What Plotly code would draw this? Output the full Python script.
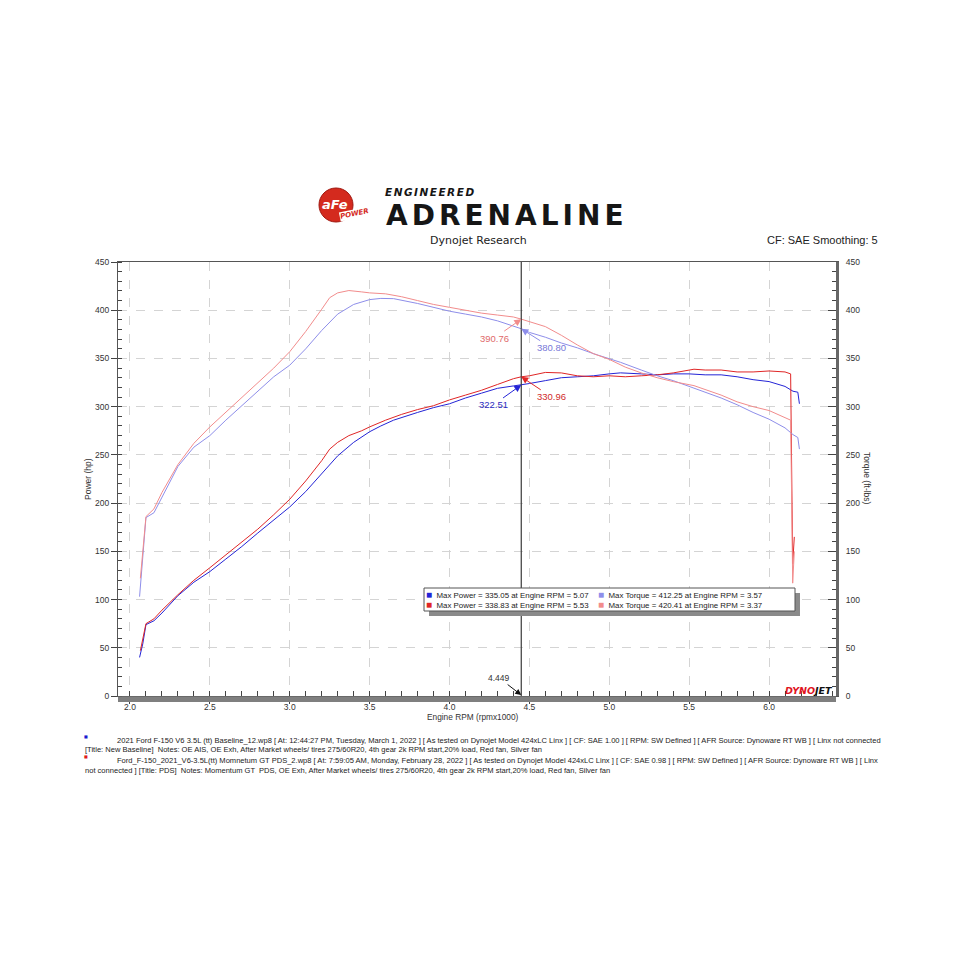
import plotly.graph_objects as go

# ---------------- data ----------------
# Baseline run (blue)
rpm_base = [2.06, 2.08, 2.10, 2.15, 2.2, 2.3, 2.4, 2.5, 2.6, 2.7, 2.8, 2.9, 3.0, 3.1, 3.2, 3.3, 3.4, 3.5,
            3.57, 3.65, 3.8, 3.9, 4.0, 4.1, 4.2, 4.3, 4.4, 4.449, 4.5, 4.6, 4.7, 4.8, 4.9, 5.0, 5.07,
            5.2, 5.3, 5.4, 5.5, 5.6, 5.7, 5.8, 5.9, 6.0, 6.1, 6.15, 6.18, 6.19]
power_base = [40, 54, 74, 78, 86, 104, 118, 129, 142, 155, 169, 183, 196, 212, 231, 249, 263, 274,
              280, 286, 294, 299, 303, 309, 314, 319, 321.5, 322.51, 324, 327, 330, 331, 332, 334, 335.05,
              334, 333, 334, 334, 333, 333, 331, 328, 326, 321, 316, 315, 303]
torque_base = [103, 140, 185, 190, 206, 238, 258, 270, 286, 301, 317, 331, 343, 360, 379, 396, 406, 411,
               412.25, 412, 407, 403, 399, 396, 393, 389, 384, 380.80, 377, 372, 366, 361, 355, 350, 346,
               338, 332, 327, 321, 315, 309, 302, 294, 287, 278, 271, 268, 256]

# Momentum GT PDS run (red)
rpm_mgt = [2.065, 2.08, 2.10, 2.15, 2.2, 2.3, 2.4, 2.5, 2.6, 2.7, 2.8, 2.9, 3.0, 3.1, 3.2, 3.25, 3.3,
           3.37, 3.45, 3.5, 3.6, 3.7, 3.8, 3.9, 4.0, 4.1, 4.2, 4.3, 4.4, 4.449, 4.5, 4.6, 4.7, 4.8, 4.9,
           5.0, 5.1, 5.2, 5.3, 5.4, 5.53, 5.6, 5.7, 5.8, 5.9, 6.0, 6.1, 6.135, 6.148, 6.158]
power_mgt = [47, 60, 75, 80, 89, 105, 120, 133, 146, 159, 173, 188, 204, 223, 244, 256, 263,
             270, 275, 279, 286, 292, 297, 301, 307, 312, 317, 323, 329, 330.96, 332, 335.5, 335, 332, 331,
             332, 331, 332, 333, 335, 338.83, 338, 338, 336, 336, 337, 336, 334, 137, 165]
torque_mgt = [122, 150, 186, 194, 211, 240, 262, 279, 294, 310, 325, 340, 357, 378, 401, 413, 418,
              420.41, 419, 418, 417, 414, 410, 406, 403, 400, 397, 395, 393, 390.76, 388, 383, 374, 364, 355,
              349, 341, 335, 330, 326, 321.8, 318, 312, 305, 300, 296, 289, 286, 117, 150]

cursor_rpm = 4.449
cursor_vals = {"tq_mgt": 390.76, "tq_base": 380.80, "pw_base": 322.51, "pw_mgt": 330.96}

legend_rows = [
    ("Max Power", 335.05, 5.07, "Max Torque", 412.25, 3.57),
    ("Max Power", 338.83, 5.53, "Max Torque", 420.41, 3.37),
]

x_ticks = [2.0, 2.5, 3.0, 3.5, 4.0, 4.5, 5.0, 5.5, 6.0]
y_ticks = [0, 50, 100, 150, 200, 250, 300, 350, 400, 450]

notes = [
    "2021 Ford F-150 V6 3.5L (tt) Baseline_12.wp8 [ At: 12:44:27 PM, Tuesday, March 1, 2022 ] [ As tested on Dynojet Model 424xLC Linx ] [ CF: SAE 1.00 ] [ RPM: SW Defined ] [ AFR Source: Dynoware RT WB ] [ Linx not connected",
    "[Title: New Baseline]  Notes: OE AIS, OE Exh, After Market wheels/ tires 275/60R20, 4th gear 2k RPM start,20% load, Red fan, Silver fan",
    "Ford_F-150_2021_V6-3.5L(tt) Momnetum GT PDS_2.wp8 [ At: 7:59:05 AM, Monday, February 28, 2022 ] [ As tested on Dynojet Model 424xLC Linx ] [ CF: SAE 0.98 ] [ RPM: SW Defined ] [ AFR Source: Dynoware RT WB ] [ Linx",
    "not connected ] [Title: PDS]  Notes: Momentum GT  PDS, OE Exh, After Market wheels/ tires 275/60R20, 4th gear 2k RPM start,20% load, Red fan, Silver fan",
]

# ---------------- styling ----------------
C_PB = "#2424d6"   # baseline power
C_PM = "#e02626"   # mgt power
C_TB = "#8e8eea"   # baseline torque
C_TM = "#f28c8c"   # mgt torque
FONT = "DejaVu Sans"
SMALL = "Liberation Sans"

OFF = 8                     # page body margin
W = H = 958 - OFF
L, R, T, B = 118, 836, 262, 696   # plot area in screen pixels


def fx(px):
    return (px - L) / (R - L)


def fy(py):
    return (B - py) / (B - T)


fig = go.Figure()
fig.add_trace(go.Scatter(x=rpm_base, y=torque_base, yaxis="y2", mode="lines",
                         line=dict(color=C_TB, width=1), hoverinfo="skip", showlegend=False))
fig.add_trace(go.Scatter(x=rpm_mgt, y=torque_mgt, yaxis="y2", mode="lines",
                         line=dict(color=C_TM, width=1), hoverinfo="skip", showlegend=False))
fig.add_trace(go.Scatter(x=rpm_base, y=power_base, mode="lines",
                         line=dict(color=C_PB, width=1), hoverinfo="skip", showlegend=False))
fig.add_trace(go.Scatter(x=rpm_mgt, y=power_mgt, mode="lines",
                         line=dict(color=C_PM, width=1), hoverinfo="skip", showlegend=False))

grid = dict(showgrid=True, gridcolor="#d4d4d4", griddash="dash", gridwidth=1, zeroline=False)
tickfont = dict(family=SMALL, size=8.5, color="#333")

fig.update_layout(
    width=W, height=H, autosize=False,
    margin=dict(l=L - OFF, r=W - (R - OFF), t=T - OFF, b=H - (B - OFF), pad=0),
    paper_bgcolor="white", plot_bgcolor="white",
    showlegend=False,
    font=dict(family=FONT, size=9, color="#333"),
    xaxis=dict(range=[1.925, 6.419], tickvals=x_ticks, ticktext=[f"{v:.1f}" for v in x_ticks],
               ticks="outside", ticklen=7, tickcolor="#444", ticklabelstandoff=-4,
               minor=dict(dtick=0.1, tick0=2.0, ticks="inside", ticklen=5, tickcolor="#444", showgrid=False),
               showline=True, mirror=True, linecolor="#555", linewidth=1,
               tickfont=tickfont, **grid),
    yaxis=dict(range=[0, 450], tickvals=y_ticks, ticks="outside", ticklen=6, tickcolor="#444",
               minor=dict(dtick=10, ticks="inside", ticklen=4, tickcolor="#444", showgrid=False),
               showline=True, linecolor="#555", linewidth=1,
               tickfont=tickfont, **grid),
    yaxis2=dict(range=[0, 450], tickvals=y_ticks, overlaying="y", side="right",
                ticks="inside", ticklen=8, tickcolor="#444",
                minor=dict(dtick=10, ticks="inside", ticklen=4, tickcolor="#444", showgrid=False),
                showline=True, linecolor="#666", linewidth=3, showgrid=False, zeroline=False,
                ticklabelstandoff=5, tickfont=tickfont),
)

shapes = []
# bottom grey bar
shapes.append(dict(type="rect", xref="paper", yref="paper", x0=0, x1=1, y0=fy(702), y1=fy(696.5),
                   fillcolor="#7f7f7f", line=dict(width=0), layer="above"))
# cursor line
shapes.append(dict(type="line", xref="x", yref="paper", x0=cursor_rpm, x1=cursor_rpm, y0=0, y1=1,
                   line=dict(color="#3a3a3a", width=1.2)))
# legend box with shadow
bx0, bx1, by0, by1 = 424, 795, 588, 611
shapes.append(dict(type="rect", xref="paper", yref="paper", x0=fx(bx0 + 5), x1=fx(bx1 + 5),
                   y0=fy(by1 + 5), y1=fy(by0 + 5), fillcolor="#8a8a8a", line=dict(width=0)))
shapes.append(dict(type="rect", xref="paper", yref="paper", x0=fx(bx0), x1=fx(bx1),
                   y0=fy(by1), y1=fy(by0), fillcolor="white", line=dict(color="#555", width=1)))
# aFe logo circle
shapes.append(dict(type="circle", xref="paper", yref="paper", x0=fx(319), x1=fx(353),
                   y0=fy(222), y1=fy(188), fillcolor="#d42a1e", line=dict(color="#a01810", width=1)))
fig.update_layout(shapes=shapes)

ann = []


def txt(px, py, text, size, color="#222", family=FONT, xa="center", ya="middle", angle=0, bg=None):
    d = dict(xref="paper", yref="paper", x=fx(px), y=fy(py), text=text, showarrow=False,
             xanchor=xa, yanchor=ya, textangle=angle, borderpad=0,
             font=dict(family=family, size=size, color=color))
    if bg:
        d.update(bgcolor=bg)
    ann.append(d)


# value annotations at cursor
for key, yref, ax, ay, acol, tcol in [
        ("tq_mgt", "y2", -27, 19, C_TM, "#e06a6a"),
        ("tq_base", "y2", 30, 19, C_TB, "#7878d8"),
        ("pw_base", "y", -28, 20, C_PB, "#2a2ac0"),
        ("pw_mgt", "y", 30, 20, C_PM, "#d02a2a")]:
    ann.append(dict(x=cursor_rpm, y=cursor_vals[key], xref="x", yref=yref, ax=ax, ay=ay,
                    text=f"{cursor_vals[key]:.2f}", showarrow=True, arrowhead=2, arrowsize=1.4,
                    arrowwidth=1, arrowcolor=acol, font=dict(family=SMALL, size=9.5, color=tcol)))
# cursor rpm label
ann.append(dict(x=cursor_rpm, y=1, xref="x", yref="y", ax=-22, ay=-17, text=f"{cursor_rpm:.3f}",
                showarrow=True, arrowhead=2, arrowsize=1.2, arrowwidth=1, arrowcolor="#111",
                font=dict(family=SMALL, size=8.5, color="#333")))

# legend text: one two-line block per column
sq_cols = [(C_PB, C_TB), (C_PM, C_TM)]
col_a, col_b = [], []
for i, (pn, pv, pr, tn, tv, tr) in enumerate(legend_rows):
    ca, cb = sq_cols[i]
    col_a.append(f"<span style='color:{ca};font-size:10px'>■</span>  {pn} = {pv:.2f} at Engine RPM = {pr:.2f}")
    col_b.append(f"<span style='color:{cb};font-size:10px'>■</span>  {tn} = {tv:.2f} at Engine RPM = {tr:.2f}")
txt(425, 599.5, "<br>".join(col_a), 7.9, family=SMALL, xa="left")
txt(597, 599.5, "<br>".join(col_b), 7.9, family=SMALL, xa="left")

# axis titles
txt(88, 479, "Power (hp)", 8.5, "#333", SMALL, angle=-90)
txt(867, 478, "Torque (ft-lbs)", 8.5, "#333", SMALL, angle=90)
txt(473, 717, "Engine RPM (rpmx1000)", 8.3, "#333", SMALL)

# header
txt(479, 240, "Dynojet Research", 11, "#222", FONT)
txt(879, 240, "CF: SAE Smoothing: 5", 11, "#222", SMALL, xa="right")

# logo
txt(507, 215, "<b><span style='letter-spacing:4px'>ADRENALINE</span></b>", 28, "#161616")
txt(430, 192, "<b><i><span style='letter-spacing:1.5px'>ENGINEERED</span></i></b>", 10.5, "#161616")
txt(335, 204, "<b><i>aFe</i></b>", 13, "white")
txt(354, 214, "<b><i>POWER</i></b>", 7, "#d42a1e", angle=-12, bg="white")

# dynojet logo
txt(834, 690, "<b><i><span style='color:#e0141e'>DYNO</span><span style='color:#111'>JET</span></i></b>",
    9.5, xa="right")

# notes
note_pos = [(116, 740), (84, 749.5), (116, 760), (84, 770)]
for (px, py), t in zip(note_pos, notes):
    txt(px, py, t, 7.55, "#222", SMALL, xa="left")
txt(86, 736, "■", 4, "#1a1ad0")
txt(86, 756, "■", 4, "#e01a1a")

fig.update_layout(annotations=ann)
fig.write_html("out.html")
